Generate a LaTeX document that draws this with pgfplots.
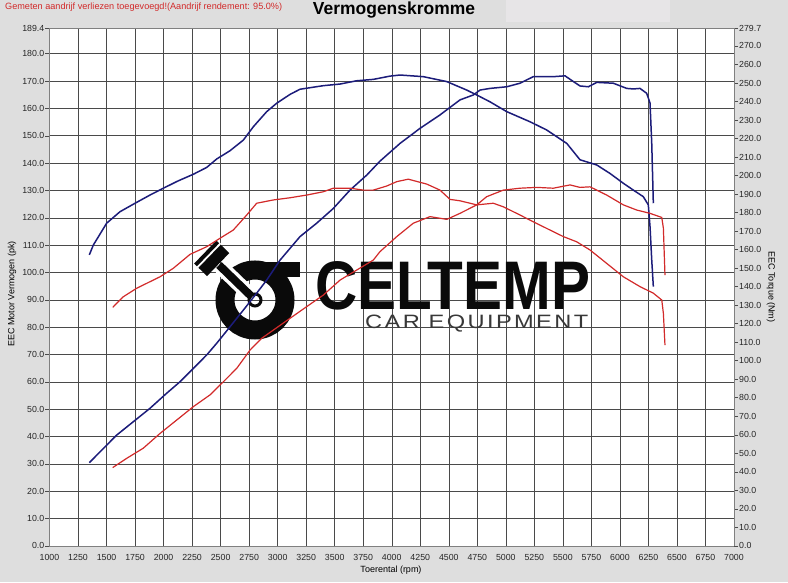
\documentclass[border=0pt]{standalone}
\usepackage{fontspec}
\setmainfont{Liberation Sans}
\usepackage{pgfplots}
\pgfplotsset{compat=1.18}
\definecolor{bgc}{HTML}{DEDEDE}
\definecolor{boxc}{HTML}{E7E5E7}
\definecolor{navy}{HTML}{1C1C7A}
\definecolor{dred}{HTML}{D22A2A}
\definecolor{gridc}{HTML}{4A4A4A}
\definecolor{logoc}{HTML}{0A0A0A}
\pgfplotsset{
  base/.style={
    at={(49.5pt,36.2pt)}, anchor=south west, scale only axis,
    width=684.5pt, height=517.8pt,
    xmin=1000, xmax=7000,
    /pgf/number format/assume math mode=true,
    tick label style={font=\fontsize{8.8}{10}\selectfont, text=black!85},
  }
}
\begin{document}
\begin{tikzpicture}[x=1pt,y=1pt]
\fill[bgc] (0,0) rectangle (788,582);
\fill[boxc] (506,560) rectangle (670,582);
\node[anchor=west, inner sep=0, text=dred] at (5,574.5)
  {\resizebox{277pt}{!}{Gemeten aandrijf verliezen toegevoegd!(Aandrijf rendement: 95.0\%)}};
\node[inner sep=0] at (394,572) {\resizebox{162pt}{!}{\bfseries Vermogenskromme}};

% left axis with grid
\begin{axis}[base,
  ymin=0, ymax=189.4,
  xtick={1000,1250,...,7000},
  ytick={0,10,...,180,189.4},
  grid=major, major grid style={gridc, line width=0.45pt},
  axis background/.style={fill=white},
  axis line style={black!50, line width=0.4pt},
  tick align=outside, ytick pos=left, xtick pos=bottom,
  major tick length=4pt,
  major x tick style={draw=none},
  major y tick style={black!70, line width=0.4pt},
  x tick label style={/pgf/number format/1000 sep={}, yshift=-1pt},
  y tick label style={/pgf/number format/fixed, /pgf/number format/fixed zerofill,
    /pgf/number format/precision=1, inner sep=1pt},
]
\end{axis}

% right axis
\begin{axis}[base,
  ymin=0, ymax=279.7,
  axis y line*=right, axis x line=none,
  ytick={0,10,...,270,279.7},
  tick align=outside, major tick length=4pt,
  axis line style={black!50, line width=0.4pt},
  major y tick style={black!70, line width=0.4pt},
  y tick label style={/pgf/number format/fixed, /pgf/number format/fixed zerofill,
    /pgf/number format/precision=1, inner sep=1pt},
]
\end{axis}

% axis labels
\node[rotate=90, inner sep=0] at (12,288) {\fontsize{9}{10}\selectfont EEC Motor Vermogen (pk)};
\node[rotate=-90, inner sep=0] at (771,295) {\fontsize{9}{10}\selectfont EEC Torque (Nm)};
\node[inner sep=0] at (391,12) {\fontsize{9}{10}\selectfont Toerental (rpm)};

% watermark logo
\draw[logoc, line width=19] (255,282) circle (30);
\fill[logoc] (255,305) rectangle (300,320);
\draw[white, line width=15] (221,315) -- (249,288);
\draw[logoc, line width=8] (219,317) -- (252,285);
\draw[logoc, line width=3] (255,282) circle (6);
\begin{scope}[shift={(211.7,323.7)}, rotate=-44]
  \fill[logoc] (-9,-16) rectangle (9,16);
  \draw[white, line width=1.8] (-4,-17) -- (-4,17);
\end{scope}
\node[anchor=south west, inner sep=0, text=logoc] at (315,272)
  {\resizebox{275pt}{48pt}{\bfseries CELTEMP}};
\node[anchor=south west, inner sep=0, text=black!78] at (365,249.5)
  {\resizebox{223pt}{13.5pt}{\addfontfeatures{LetterSpace=10}CAR EQUIPMENT}};

% curves
\begin{axis}[base, ymin=0, ymax=189.4, hide axis]
% blue power
\addplot[navy, line width=1.5pt] coordinates {
(1349,30.4)(1458,35.0)(1589,40.5)(1735,45.4)(1881,50.3)(2027,55.8)(2144,60.0)
(2261,64.9)(2378,69.8)(2466,74.1)(2582,80.1)(2699,86.2)(2816,92.4)(2904,97.2)
(3021,104.5)(3196,113.1)(3342,118.0)(3488,123.4)(3634,130.1)(3781,135.6)
(3897,140.7)(4073,147.2)(4248,152.7)(4423,157.6)(4598,163.1)(4715,164.9)
(4774,166.7)(4861,167.3)(5008,167.9)(5124,169.2)(5241,171.6)(5416,171.6)
(5519,171.9)(5592,169.8)(5650,168.2)(5723,167.9)(5797,169.5)(5942,169.2)
(6060,167.3)(6118,167.1)(6176,167.3)(6235,165.5)(6264,161.9)(6279,147.2)(6293,125.3)
};
% blue torque
\addplot[navy, line width=1.5pt] coordinates {
(1349,106.4)(1384,110.0)(1501,118.0)(1618,122.2)(1750,125.3)(1881,128.3)
(1998,130.8)(2129,133.5)(2261,135.9)(2378,138.4)(2466,141.5)(2582,144.5)
(2699,148.4)(2787,153.3)(2904,158.8)(2992,161.9)(3108,165.1)(3196,167.0)
(3400,168.3)(3547,168.9)(3693,170.1)(3838,170.6)(3985,171.8)(4073,172.2)
(4277,171.6)(4482,169.8)(4657,166.7)(4745,164.9)(4861,162.4)(5008,158.8)
(5212,155.1)(5358,152.1)(5534,147.2)(5650,141.2)(5797,139.3)(5913,136.2)
(6030,132.6)(6118,130.1)(6205,127.7)(6249,124.7)(6264,116.7)(6279,104.5)(6293,94.8)
};
% red power
\addplot[dred, line width=1.2pt] coordinates {
(1554,28.6)(1677,32.0)(1822,35.7)(1969,41.1)(2115,46.0)(2261,50.9)(2407,55.2)
(2524,60.0)(2641,64.9)(2758,71.6)(2860,75.9)(2962,78.9)(3108,83.2)(3255,87.5)
(3400,91.7)(3547,97.2)(3838,104.5)(3897,107.6)(4044,113.1)(4189,118.0)
(4335,120.4)(4482,119.4)(4598,121.6)(4745,124.7)(4832,127.7)(4978,130.1)
(5124,130.8)(5271,131.1)(5416,130.8)(5563,132.0)(5650,131.1)(5738,131.3)
(5884,128.3)(6030,124.7)(6148,122.8)(6264,121.6)(6367,120.1)(6381,116.2)(6395,99.0)
};
% red torque
\addplot[dred, line width=1.2pt] coordinates {
(1554,87.2)(1647,91.1)(1764,94.2)(1881,96.6)(1969,98.4)(2085,101.5)(2232,106.6)
(2378,109.4)(2495,112.5)(2611,115.5)(2729,121.0)(2816,125.3)(2962,126.5)
(3108,127.3)(3255,128.3)(3400,129.5)(3488,130.8)(3634,130.8)(3751,130.1)
(3838,130.1)(3956,131.6)(4044,133.2)(4145,134.1)(4307,132.3)(4423,130.1)
(4511,126.7)(4598,126.2)(4745,124.7)(4890,125.3)(4978,124.0)(5124,121.0)
(5241,118.5)(5387,115.5)(5504,113.1)(5621,111.2)(5738,108.2)(5884,103.3)
(6030,98.4)(6176,94.8)(6293,92.4)(6367,89.9)(6381,85.0)(6395,73.4)
};
\end{axis}
\pgfresetboundingbox
\useasboundingbox (0,0) rectangle (788,582);
\end{tikzpicture}
\end{document}
